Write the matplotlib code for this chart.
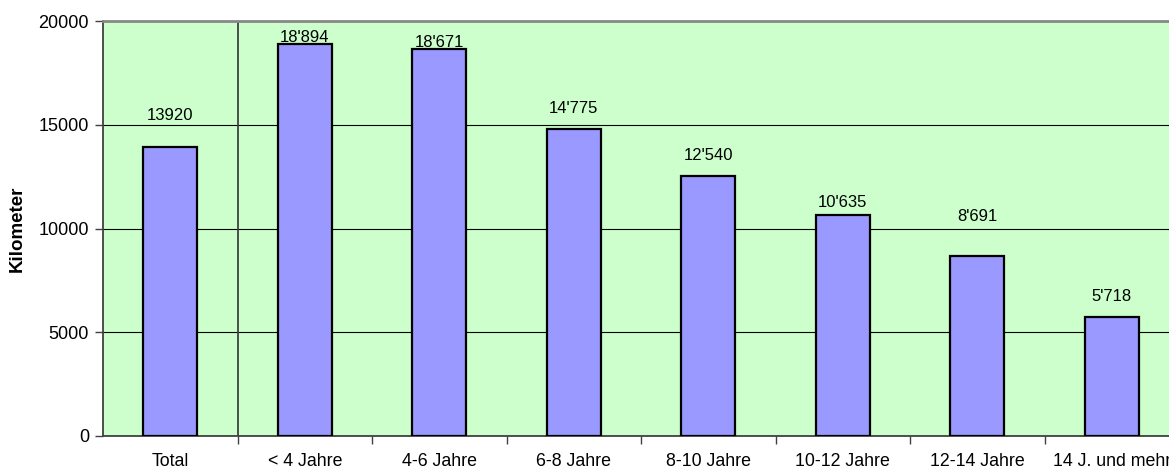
import numpy as np
import matplotlib.pyplot as plt

plt.rcParams['font.family'] = ['Liberation Sans', 'DejaVu Sans']

# data
categories = ['Total', '< 4 Jahre', '4-6 Jahre', '6-8 Jahre', '8-10 Jahre',
              '10-12 Jahre', '12-14 Jahre', '14 J. und mehr']
values = [13920, 18894, 18671, 14775, 12540, 10635, 8691, 5718]
value_labels = ['13920', "18'894", "18'671", "14'775", "12'540",
                "10'635", "8'691", "5'718"]
# gap between bar top and label baseline (pixels), as placed in the original
label_gap_px = [27, 2, 2, 16, 16, 8, 35, 16]

fig = plt.figure(figsize=(11.69, 4.71), dpi=100)
ax = fig.add_axes([103 / 1169, 35 / 471, 1076 / 1169, 415 / 471])
ax.set_facecolor('#CCFFCC')

x = np.arange(len(categories))
ax.bar(x, values, width=0.4, color='#9999FF', edgecolor='black',
       linewidth=1.6, zorder=3)

for xi, v, lab, gap in zip(x, values, value_labels, label_gap_px):
    ax.annotate(lab, (xi, v), xytext=(0, gap * 0.72), textcoords='offset points',
                ha='center', va='baseline', fontsize=12, zorder=4)

ax.set_xlim(-0.5, len(categories) - 0.5)
ax.set_ylim(0, 20000)
ax.set_yticks([0, 5000, 10000, 15000, 20000])
ax.yaxis.grid(True, color='black', linewidth=0.8, zorder=1)
ax.set_axisbelow(True)

# separator between Total and age classes
ax.axvline(0.5, color='#404040', linewidth=1.3, zorder=2)

# boundary ticks (major) and labels at centres (minor)
ax.set_xticks(np.arange(len(categories) - 1) + 0.5)
ax.set_xticklabels([])
ax.set_xticks(x, minor=True)
ax.set_xticklabels(categories, minor=True)
ax.tick_params(axis='x', which='major', length=6, color='#404040', width=1)
ax.tick_params(axis='x', which='minor', length=0, pad=12.5, labelsize=12.8)
ax.tick_params(axis='y', length=6, color='#404040', width=1, labelsize=13, pad=4)

ax.set_ylabel('Kilometer', fontweight='bold', fontsize=13.5, labelpad=9)

for s in ['left', 'bottom']:
    ax.spines[s].set_color('#404040')
    ax.spines[s].set_linewidth(1.3)
ax.spines['top'].set_color('#888888')
ax.spines['top'].set_linewidth(2)
ax.spines['right'].set_visible(False)

fig.savefig('out.png', dpi=100)
